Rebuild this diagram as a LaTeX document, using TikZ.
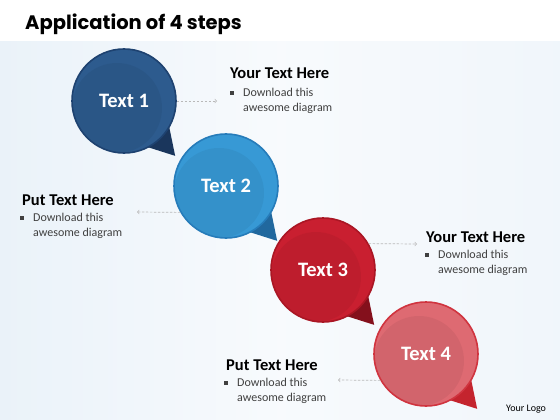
\documentclass[tikz,border=0pt]{standalone}
\usepackage{fontspec}
\setmainfont{Carlito}
\newfontfamily\titlefont{Poppins}
\usetikzlibrary{calc}

\definecolor{bgblue}{RGB}{234,242,249}
\definecolor{dkblue}{RGB}{45,91,142}
\definecolor{dkblueb}{RGB}{30,66,112}
\definecolor{dkbluet}{RGB}{26,54,92}
\definecolor{ltblue}{RGB}{55,153,213}
\definecolor{ltblueb}{RGB}{38,124,186}
\definecolor{ltbluet}{RGB}{33,104,158}
\definecolor{dkred}{RGB}{201,31,48}
\definecolor{dkredb}{RGB}{170,22,36}
\definecolor{dkredt}{RGB}{132,16,28}
\definecolor{ltred}{RGB}{222,106,114}
\definecolor{ltredb}{RGB}{208,52,63}
\definecolor{ltredt}{RGB}{196,36,46}

\newcommand\bulsq{\makebox[13pt][l]{\rule[1.5pt]{3.5pt}{3.5pt}}}

\tikzset{%
	bubble/.style={circle,minimum size=104pt,inner sep=0pt,line width=1.6pt,text=white,font=\bfseries\fontsize{20.5}{22}\selectfont},%
	pointer/.style={->,gray!55,line width=0.7pt,dash pattern=on 2.5pt off 1.5pt},%
	headtext/.style={anchor=base west,inner sep=0pt,font=\bfseries\fontsize{16.5}{18}\selectfont},%
	bodytext/.style={anchor=base west,inner sep=0pt,align=left,font=\fontsize{12}{15}\selectfont,text=black!75}%
}

\begin{document}
\begin{tikzpicture}[x=1pt,y=-1pt] % tikzpicture環境開始
\path[use as bounding box] (0,0) rectangle (560,420);
% 背景
\fill[white] (0,0) rectangle (560,420);
\shade[left color=bgblue,right color=bgblue!70!white,middle color=bgblue!35!white] (0,42) rectangle (560,420);
\node[anchor=base west,inner sep=0pt,font=\titlefont\bfseries\fontsize{19.5}{22}\selectfont] (title) at (25,30) {Application of 4 steps};
% 吹き出し
\foreach \i/\x/\y/\fc/\bc/\tc in%
{%
	1/124/101/dkblue/dkblueb/dkbluet,%
	2/226/186/ltblue/ltblueb/ltbluet,%
	3/323/270/dkred/dkredb/dkredt,%
	4/426/354/ltred/ltredb/ltredt%
}{%
	\path (\x,\y) +(27:50) [fill=\tc]-- +(47:75) -- +(65:50) -- cycle;
	\fill[\fc] (\x,\y) circle (52);
	\begin{scope}
		\clip (\x,\y) circle (52);
		\fill[black,opacity=0.05] (\x-7,\y+7) circle (45);
	\end{scope}
	\node[bubble,draw=\bc] (t\i) at (\x,\y) {Text \i};
}%
% 矢印
\coordinate (p1) at (217,101);
\coordinate (p2) at (137,212);
\coordinate (p3) at (417,244);
\coordinate (p4) at (338,380);
\draw[pointer] (t1.east) -- (p1);
\draw[pointer] (t2.210) -- (p2);
\draw[pointer] (t3.30) -- (p3);
\draw[pointer] (t4.210) -- (p4);
% テキスト
\node[headtext] (h1) at (230,79) {Your Text Here};
\node[bodytext] (b1) at (230,111) {\bulsq Download this\\\hspace*{13pt}awesome diagram};
\node[headtext] (h2) at (22,205) {Put Text Here};
\node[bodytext] (b2) at (20,236) {\bulsq Download this\\\hspace*{13pt}awesome diagram};
\node[headtext] (h3) at (426,242) {Your Text Here};
\node[bodytext] (b3) at (425,273) {\bulsq Download this\\\hspace*{13pt}awesome diagram};
\node[headtext] (h4) at (226,370) {Put Text Here};
\node[bodytext] (b4) at (224,401) {\bulsq Download this\\\hspace*{13pt}awesome diagram};
\node[anchor=base west,inner sep=0pt,font=\fontsize{10}{12}\selectfont] (logo) at (506,411) {Your Logo};
\end{tikzpicture}
\end{document}
